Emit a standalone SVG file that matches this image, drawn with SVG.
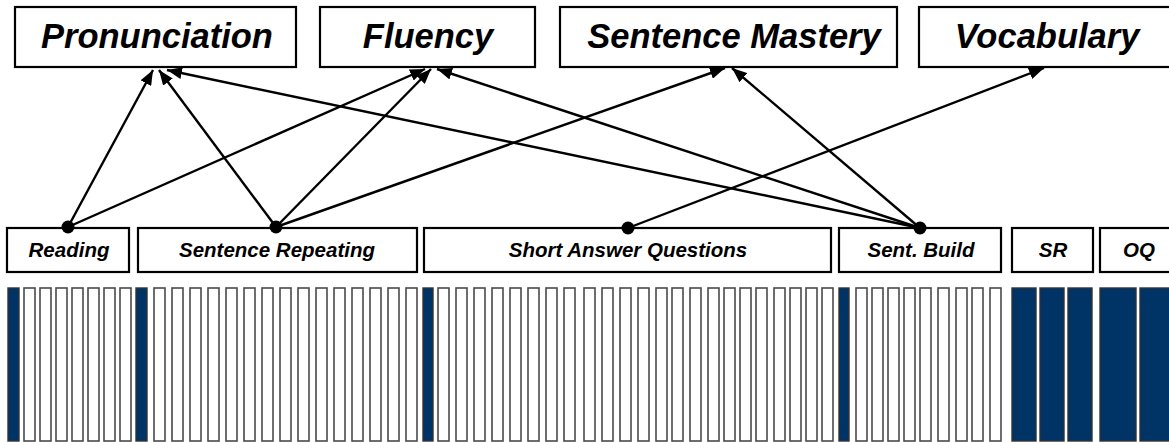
<svg xmlns="http://www.w3.org/2000/svg" width="1169" height="442" viewBox="0 0 1169 442">
<style>
.box{fill:#fff;stroke:#000;stroke-width:2.2}
.t{font-family:"Liberation Sans",Arial,sans-serif;font-weight:bold;font-style:italic;fill:#000;text-anchor:middle}
.big{font-size:34.5px}
.small{font-size:20.5px}
.w{fill:#fff;stroke:#4a4a4a;stroke-width:1.6}
.b{fill:#003366;stroke:#333;stroke-width:1.4}
.c{stroke:#000;stroke-width:2.4;fill:none;marker-end:url(#ah)}
.dot{fill:#000}
</style>
<defs>
<marker id="ah" markerUnits="userSpaceOnUse" markerWidth="16" markerHeight="12" refX="15" refY="6" orient="auto">
<path d="M0,0 L15,6 L0,12 z" fill="#000"/>
</marker>
</defs>
<rect width="1169" height="442" fill="#fff"/>

<g id="pronunciation"><rect class="box" x="15" y="7" width="281" height="60"/><text class="t big" x="157" y="48">Pronunciation</text></g>
<g id="fluency"><rect class="box" x="320" y="7" width="215" height="60"/><text class="t big" x="428" y="48">Fluency</text></g>
<g id="sentence-mastery"><rect class="box" x="560" y="7" width="337" height="60"/><text class="t big" x="734" y="48">Sentence Mastery</text></g>
<g id="vocabulary"><rect class="box" x="919" y="7" width="258" height="60"/><text class="t big" x="1047" y="48">Vocabulary</text></g>

<g id="reading"><rect class="box" x="7" y="228" width="122" height="44"/><text class="t small" x="69" y="257">Reading</text></g>
<g id="sentence-repeating"><rect class="box" x="138" y="228" width="279" height="44"/><text class="t small" x="277" y="257">Sentence Repeating</text></g>
<g id="short-answer"><rect class="box" x="424" y="228" width="407" height="44"/><text class="t small" x="628" y="257">Short Answer Questions</text></g>
<g id="sent-build"><rect class="box" x="839" y="228" width="162" height="44"/><text class="t small" x="921" y="257">Sent. Build</text></g>
<g id="sr"><rect class="box" x="1012" y="228" width="81" height="44"/><text class="t small" x="1053" y="257">SR</text></g>
<g id="oq"><rect class="box" x="1100" y="228" width="78" height="44"/><text class="t small" x="1139" y="257">OQ</text></g>

<g id="connectors">
<line class="c" x1="68" y1="227" x2="153" y2="70"/>
<line class="c" x1="68" y1="227" x2="425" y2="69"/>
<line class="c" x1="276" y1="227" x2="159" y2="70"/>
<line class="c" x1="276" y1="227" x2="431" y2="69"/>
<line class="c" x1="276" y1="227" x2="725" y2="68"/>
<line class="c" x1="628" y1="228" x2="1044" y2="68"/>
<line class="c" x1="920" y1="228" x2="167" y2="70"/>
<line class="c" x1="920" y1="228" x2="437" y2="69"/>
<line class="c" x1="920" y1="228" x2="732" y2="68"/>
<circle class="dot" cx="68" cy="227" r="6.5"/>
<circle class="dot" cx="276" cy="227" r="6.5"/>
<circle class="dot" cx="628" cy="228" r="6.5"/>
<circle class="dot" cx="920" cy="228" r="6.5"/>
</g>

<g id="bars">
<rect class="b" x="8" y="288" width="11" height="153"/>
<rect class="w" x="24" y="288" width="11" height="153"/>
<rect class="w" x="40" y="288" width="11" height="153"/>
<rect class="w" x="56" y="288" width="11" height="153"/>
<rect class="w" x="72" y="288" width="11" height="153"/>
<rect class="w" x="88" y="288" width="11" height="153"/>
<rect class="w" x="104" y="288" width="11" height="153"/>
<rect class="w" x="120" y="288" width="11" height="153"/>
<rect class="b" x="136" y="288" width="11" height="153"/>
<rect class="w" x="154" y="288" width="11" height="153"/>
<rect class="w" x="172" y="288" width="11" height="153"/>
<rect class="w" x="190" y="288" width="11" height="153"/>
<rect class="w" x="208" y="288" width="11" height="153"/>
<rect class="w" x="226" y="288" width="11" height="153"/>
<rect class="w" x="244" y="288" width="11" height="153"/>
<rect class="w" x="262" y="288" width="11" height="153"/>
<rect class="w" x="280" y="288" width="11" height="153"/>
<rect class="w" x="298" y="288" width="11" height="153"/>
<rect class="w" x="316" y="288" width="11" height="153"/>
<rect class="w" x="334" y="288" width="11" height="153"/>
<rect class="w" x="352" y="288" width="11" height="153"/>
<rect class="w" x="370" y="288" width="11" height="153"/>
<rect class="w" x="388" y="288" width="11" height="153"/>
<rect class="w" x="406" y="288" width="11" height="153"/>
<rect class="b" x="423" y="288" width="10" height="153"/>
<rect class="w" x="438" y="288" width="11" height="153"/>
<rect class="w" x="456" y="288" width="11" height="153"/>
<rect class="w" x="474" y="288" width="11" height="153"/>
<rect class="w" x="492" y="288" width="11" height="153"/>
<rect class="w" x="510" y="288" width="11" height="153"/>
<rect class="w" x="528" y="288" width="11" height="153"/>
<rect class="w" x="546" y="288" width="11" height="153"/>
<rect class="w" x="564" y="288" width="11" height="153"/>
<rect class="w" x="584" y="288" width="11" height="153"/>
<rect class="w" x="602" y="288" width="11" height="153"/>
<rect class="w" x="620" y="288" width="11" height="153"/>
<rect class="w" x="638" y="288" width="11" height="153"/>
<rect class="w" x="656" y="288" width="11" height="153"/>
<rect class="w" x="672" y="288" width="11" height="153"/>
<rect class="w" x="690" y="288" width="11" height="153"/>
<rect class="w" x="708" y="288" width="11" height="153"/>
<rect class="w" x="724" y="288" width="11" height="153"/>
<rect class="w" x="740" y="288" width="11" height="153"/>
<rect class="w" x="756" y="288" width="11" height="153"/>
<rect class="w" x="774" y="288" width="11" height="153"/>
<rect class="w" x="790" y="288" width="11" height="153"/>
<rect class="w" x="806" y="288" width="11" height="153"/>
<rect class="w" x="822" y="288" width="11" height="153"/>
<rect class="b" x="839" y="288" width="10" height="153"/>
<rect class="w" x="856" y="288" width="11" height="153"/>
<rect class="w" x="872" y="288" width="11" height="153"/>
<rect class="w" x="888" y="288" width="11" height="153"/>
<rect class="w" x="904" y="288" width="11" height="153"/>
<rect class="w" x="920" y="288" width="11" height="153"/>
<rect class="w" x="938" y="288" width="11" height="153"/>
<rect class="w" x="956" y="288" width="11" height="153"/>
<rect class="w" x="972" y="288" width="11" height="153"/>
<rect class="w" x="990" y="288" width="11" height="153"/>
<rect class="b" x="1012" y="288" width="24" height="153"/>
<rect class="b" x="1040" y="288" width="24" height="153"/>
<rect class="b" x="1068" y="288" width="24" height="153"/>
<rect class="b" x="1100" y="288" width="36" height="153"/>
<rect class="b" x="1140" y="288" width="36" height="153"/>
</g>
</svg>
